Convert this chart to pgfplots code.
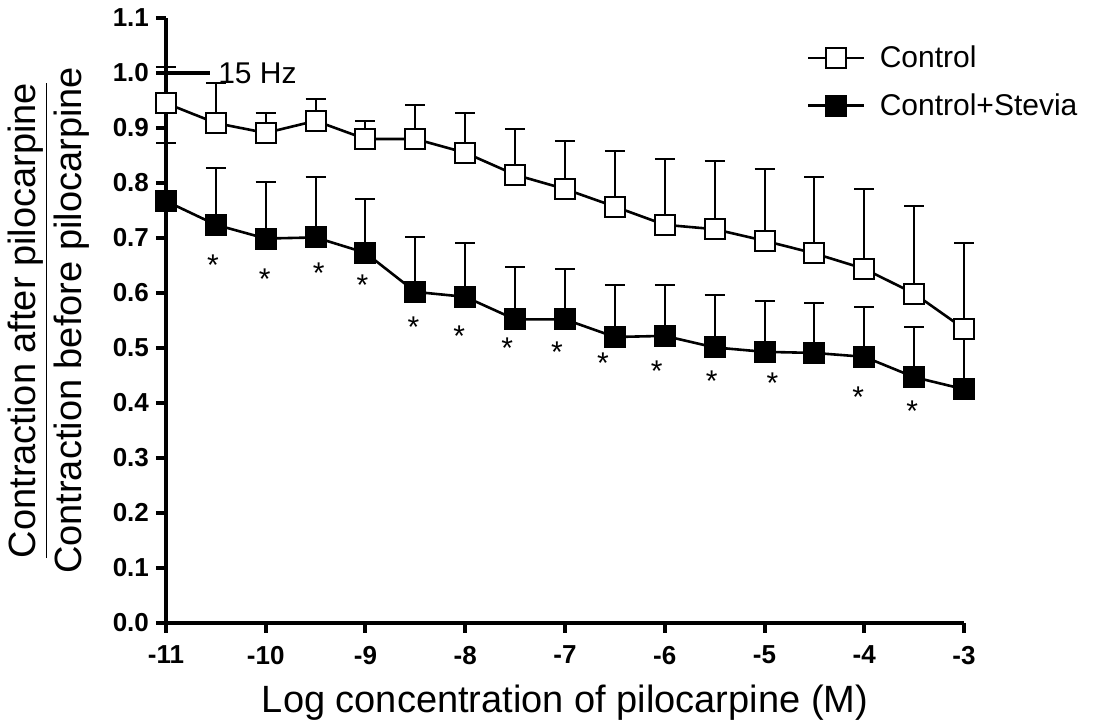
\documentclass[border=0pt]{standalone}
\usepackage{fontspec}
\setmainfont{Liberation Sans}
\usepackage{pgfplots}
\pgfplotsset{compat=1.18}
\begin{document}
\begin{tikzpicture}
\begin{axis}[
  at={(0,0)}, anchor=south west,
  scale only axis, width=399pt, height=302.5pt,
  xmin=-11, xmax=-3, ymin=0, ymax=1.1,
  clip=false,
  axis lines=left,
  axis line style={-, line width=2pt},
  xtick={-11,-10,-9,-8,-7,-6,-5,-4,-3},
  xticklabels={-11,-10,-9,-8,-7,-6,-5,-4,-3},
  ytick={0,0.1,0.2,0.3,0.4,0.5,0.6,0.7,0.8,0.9,1.0,1.1},
  yticklabels={0.0,0.1,0.2,0.3,0.4,0.5,0.6,0.7,0.8,0.9,1.0,1.1},
  tick align=outside, major tick length=5pt,
  tick style={line width=2pt, black},
  ticklabel style={font=\bfseries\fontsize{13}{15}\selectfont},
  xticklabel style={yshift=-3pt},
  xlabel={Log concentration of pilocarpine (M)},
  xlabel style={at={(axis description cs:0.5,0)}, anchor=base, yshift=-45pt, font=\fontsize{19}{23}\selectfont},
  ylabel={\underline{Contraction after pilocarpine}\\Contraction before pilocarpine},
  ylabel style={at={(axis description cs:-0.087,0.5)}, anchor=south, align=center, font=\fontsize{19}{23}\selectfont},
  legend image code/.code={\draw[mark repeat=2,mark phase=2] plot coordinates {(0pt,0pt)(14pt,0pt)(28pt,0pt)};},
  legend style={draw=none, fill=none, at={(axis description cs:0.803,0.955)}, anchor=north west,
    font=\fontsize{15}{18}\selectfont, row sep=11.5pt, column sep=7pt, inner sep=0pt, nodes={inner sep=0pt}},
  legend cell align=left,
]
% Control+Stevia
\addplot[black, line width=1.3pt, mark=square*, mark size=5pt,
  mark options={solid, fill=black, line width=1pt}, forget plot,
  error bars/.cd, y dir=plus, y explicit,
  error bar style={line width=1pt, black},
  error mark options={rotate=90, mark size=5pt, line width=1pt, black}]
coordinates {
(-11,0.767) += (0,0.0)
(-10.5,0.724) += (0,0.104)
(-10,0.699) += (0,0.103)
(-9.5,0.701) += (0,0.109)
(-9,0.673) += (0,0.097)
(-8.5,0.602) += (0,0.099)
(-8,0.593) += (0,0.097)
(-7.5,0.552) += (0,0.096)
(-7,0.552) += (0,0.092)
(-6.5,0.520) += (0,0.094)
(-6,0.522) += (0,0.092)
(-5.5,0.501) += (0,0.095)
(-5,0.493) += (0,0.092)
(-4.5,0.491) += (0,0.090)
(-4,0.484) += (0,0.090)
(-3.5,0.447) += (0,0.091)
(-3,0.425) += (0,0.105)
};
% lower error bar of the first control point
\addplot[draw=none, forget plot,
  error bars/.cd, y dir=minus, y explicit,
  error bar style={line width=1pt, black},
  error mark options={rotate=90, mark size=5pt, line width=1pt, black}]
coordinates {(-11,0.945) -= (0,0.072)};
% Control marks and error bars
\addplot[only marks, mark=square*, mark size=5pt,
  mark options={fill=white, draw=black, line width=1pt}, forget plot,
  error bars/.cd, y dir=plus, y explicit,
  error bar style={line width=1pt, black},
  error mark options={rotate=90, mark size=5pt, line width=1pt, black}]
coordinates {
(-11,0.945) += (0,0.065)
(-10.5,0.909) += (0,0.073)
(-10,0.891) += (0,0.036)
(-9.5,0.913) += (0,0.040)
(-9,0.880) += (0,0.033)
(-8.5,0.880) += (0,0.062)
(-8,0.855) += (0,0.073)
(-7.5,0.815) += (0,0.083)
(-7,0.789) += (0,0.087)
(-6.5,0.757) += (0,0.102)
(-6,0.724) += (0,0.120)
(-5.5,0.716) += (0,0.124)
(-5,0.695) += (0,0.130)
(-4.5,0.672) += (0,0.138)
(-4,0.644) += (0,0.145)
(-3.5,0.599) += (0,0.160)
(-3,0.535) += (0,0.155)
};
% Control line
\addplot[black, line width=1.3pt, mark=none, forget plot]
coordinates {
(-11,0.945) (-10.5,0.909) (-10,0.891) (-9.5,0.913) (-9,0.880) (-8.5,0.880)
(-8,0.855) (-7.5,0.815) (-7,0.789) (-6.5,0.757) (-6,0.724) (-5.5,0.716)
(-5,0.695) (-4.5,0.672) (-4,0.644) (-3.5,0.599) (-3,0.535)
};
% significance asterisks
\addplot[only marks, mark=none, forget plot, nodes near coords={*},
  every node near coord/.style={anchor=center, inner sep=0pt, yshift=-3.2pt, font=\fontsize{15}{18}\selectfont}]
coordinates {
(-10.53,0.662) (-10.01,0.636) (-9.47,0.647) (-9.03,0.625) (-8.52,0.549)
(-8.06,0.534) (-7.58,0.511) (-7.08,0.504) (-6.62,0.484) (-6.08,0.469)
(-5.53,0.451) (-4.92,0.447) (-4.06,0.422) (-3.52,0.396)
};
\addlegendimage{black, line width=1.3pt, mark=square*, mark size=5pt, mark options={solid, fill=white, line width=1pt}}
\addlegendentry{Control}
\addlegendimage{black, line width=1.3pt, mark=square*, mark size=5pt, mark options={solid, fill=black, line width=1pt}}
\addlegendentry{Control+Stevia}
% 15 Hz annotation
\draw[line width=2pt] (axis cs:-11,1.0) -- (axis cs:-10.56,1.0);
\node[anchor=west, inner sep=0pt, font=\fontsize{15}{18}\selectfont] at (axis cs:-10.48,1.0) {15 Hz};
\end{axis}
\pgfresetboundingbox
\useasboundingbox (-83pt,-51.5pt) rectangle (466pt,311.5pt);
\end{tikzpicture}
\end{document}
